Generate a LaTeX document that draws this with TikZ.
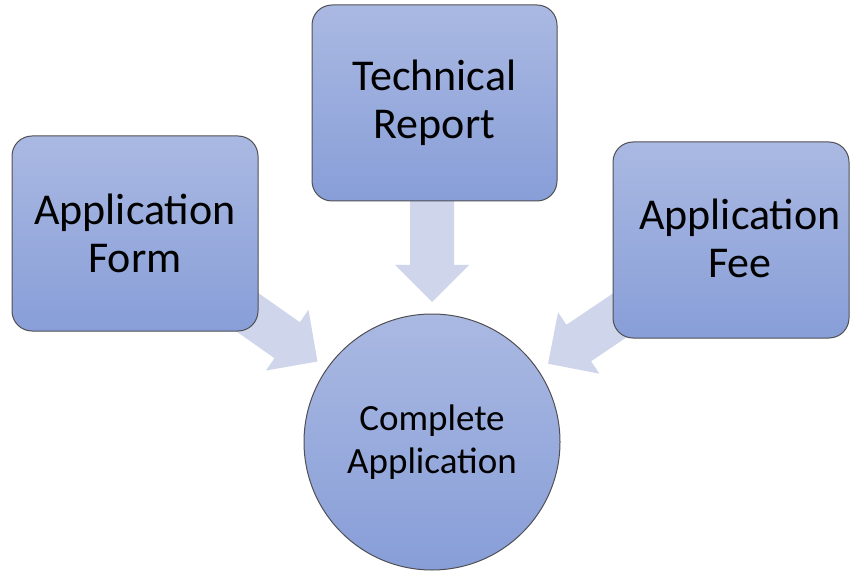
\documentclass[tikz,border=0pt]{standalone}
\usepackage{fontspec}
\setmainfont{Carlito}
\definecolor{topc}{RGB}{170,185,226}
\definecolor{botc}{RGB}{136,158,216}
\definecolor{edgec}{RGB}{80,80,84}
\definecolor{arrowc}{RGB}{207,214,236}
\begin{document}
\begin{tikzpicture}[x=1pt,y=1pt,
  boxst/.style={draw=edgec, line width=1pt, rounded corners=20pt,
    top color=topc, bottom color=botc, inner sep=0pt, align=center,
    font=\fontsize{44}{48}\selectfont},
  circst/.style={circle, draw=edgec, line width=1pt,
    top color=topc, bottom color=botc, inner sep=0pt, align=center,
    minimum size=256pt, font=\fontsize{37}{43}\selectfont},
  fatarrow/.style={fill=arrowc, draw=none}]
\fill[white] (0,0) rectangle (851,571);
\useasboundingbox (0,0) rectangle (851,571);
\coordinate (cc) at (432,129);
% arrows (converging toward the circle)
\foreach \ang in {144.9,90,34}{
  \begin{scope}[shift={(cc)}, rotate=\ang]
    \fill[fatarrow] (140,0) -- (177,37) -- (177,22) -- (248,22) -- (248,-22)
      -- (177,-22) -- (177,-37) -- cycle;
  \end{scope}
}
\node[boxst, minimum width=246pt, minimum height=195pt] (form) at (135,337.5) {Application\\Form};
\node[boxst, minimum width=245pt, minimum height=196pt] (report) at (434.5,468) {Technical\\Report};
\node[boxst, minimum width=236pt, minimum height=196pt] (fee) at (731,331) {};
\node[align=center, font=\fontsize{44}{48}\selectfont, inner sep=0pt] (feetxt) at (740,333) {Application\\Fee};
\node[circst] (circ) at (cc) {Complete\\Application};
\end{tikzpicture}
\end{document}
